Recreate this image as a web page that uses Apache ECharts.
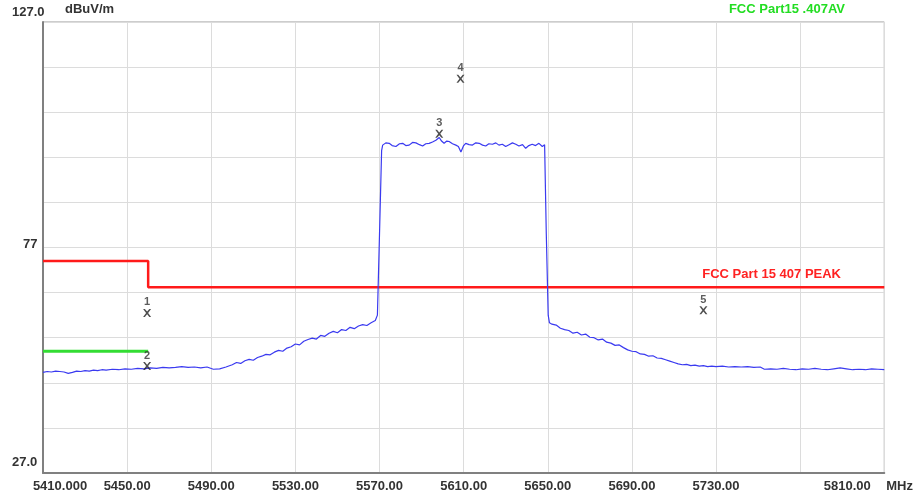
<!DOCTYPE html>
<html>
<head>
<meta charset="utf-8">
<script src="https://cdn.jsdelivr.net/npm/echarts@6/dist/echarts.min.js"></script>
<style>
html,body{margin:0;padding:0;background:#fff;}
#c{width:916px;height:499px;}
</style>
</head>
<body>
<div id="c"></div>
<script>
// ---- data ----
const traceFreq = [
5410,5412,5414,5416,5418,5420,5422,5424,5426,5428,5430,5432,5434,5436,5438,5440,5443,5446,5449,5452,5455,5458,5461,5464,5467,5470,5473,5476,5479,5482,5485,5488,5491,5494,5497,
5500,5502,5504,5506,5508,5510,5512,5514,5516,5518,5520,5522,5524,5526,5528,5530,5532,5534,5536,5538,5540,5542,5544,5546,5548,5550,5552,5554,5556,5558,5560,5562,5564,5566,5568,5569,5570,5571,
5571.5,5573,5574.6,5576,5577.8,5579.5,5581,5582.5,5584.1,5585.7,5587.3,5589,5590.5,5592,5593.6,5595.2,5596.8,5598.4,5599.5,5600.7,5602,5603.1,5604.7,5606.3,5607.5,5608.7,5610,5611,5612.6,5614.2,5615.8,5617.4,5619,5620.5,5622,5623.7,5625.3,5626.8,5628.4,5630,5631.6,5633.2,5634.8,5636.3,5638,5639.5,5641,5642.6,5644.2,5645.8,5647.4,5648.5,
5649.3,5650.2,5650.8,5652,5654,5656,5658,5660,5662,5664,5666,5668,5670,5672,5674,5676,5678,5680,5682,5684,5686,5688,5690,5692,5694,5696,5698,5700,5702,5704,5706,5708,5710,5712,5714,5716,5718,5720,5722,5724,5726,5728,5730,
5733,5736,5739,5742,5745,5748,5751,5753,5756,5759,5762,5765,5768,5771,5774,5777,5780,5783,5786,5789,5792,5795,5798,5801,5804,5807,5810
];
const traceLevel = [
49.3,49.5,49.4,49.6,49.5,49.4,49.1,49.3,49.6,49.5,49.7,49.6,49.8,49.7,49.9,49.8,50.0,49.9,50.1,50.0,50.2,50.1,50.3,50.2,50.4,50.3,50.4,50.6,50.4,50.5,50.3,50.5,50.0,50.1,50.5,
51.0,51.5,51.3,51.9,52.2,52.0,52.6,52.9,53.3,53.2,53.8,54.2,54.0,54.7,55.0,55.6,55.4,56.2,56.6,56.9,56.7,57.5,57.3,58.0,58.4,58.1,58.8,58.6,59.3,59.0,59.6,59.9,59.7,60.3,60.8,62,80,98.5,
99.7,100.2,100.1,99.6,99.4,100.0,100.1,99.6,99.7,100.3,100.2,99.8,99.5,100.0,100.1,100.4,100.8,101.4,100.6,100.1,100.6,100.5,100.0,99.7,99.4,98.2,99.6,100.1,99.8,99.7,100.2,100.1,99.7,99.5,100.0,99.9,100.2,99.7,99.9,99.4,99.8,100.2,99.9,99.5,99.8,99.0,99.6,99.9,99.6,100.1,99.4,99.8,
80,62,60.3,60.0,59.8,59.1,58.8,58.6,58.0,58.2,57.6,57.8,57.1,57.0,56.5,56.7,56.0,55.8,55.3,55.4,54.8,54.3,54.0,53.9,53.4,53.3,52.9,53.0,52.5,52.4,52.1,51.8,51.5,51.2,51.0,51.1,50.8,50.9,50.7,50.8,50.6,50.7,50.6,
50.7,50.5,50.6,50.5,50.6,50.4,50.5,50.0,50.1,50.0,50.2,50.0,49.9,50.1,50.0,50.2,50.0,49.9,50.1,50.3,50.1,49.9,50.0,49.9,50.1,50.0,49.9
];
const peakLimitFreq = [5410, 5460, 5460, 5810];
const peakLimitLevel = [74, 74, 68.2, 68.2];
const avgLimitFreq = [5410, 5460];
const avgLimitLevel = [54, 54];
const markerIds = ['1', '2', '3', '4', '5'];
const markerFreq = [5459.5, 5459.5, 5598.4, 5608.5, 5724];
const markerLevel = [62.5, 50.7, 102.2, 114.4, 63.1];
const xTickValues = [5410, 5450, 5490, 5530, 5570, 5610, 5650, 5690, 5730, 5770, 5810];
const xTickLabels = ['5410.000', '5450.00', '5490.00', '5530.00', '5570.00', '5610.00', '5650.00', '5690.00', '5730.00', '', '5810.00'];
const yTickValues = [27, 77, 127];
const yTickLabels = ['27.0', '77', '127.0'];
const peakName = 'FCC Part 15 407 PEAK';
const avgName = 'FCC Part15 .407AV';

// ---- chart ----
const zip = (a, b) => a.map((v, i) => [v, b[i]]);
const FONT = '"Liberation Sans", Arial, sans-serif';
const chart = echarts.init(document.getElementById('c'), null, {renderer: 'canvas'});
const xPath = 'path://M0,0 L2.2,0 L5,3.4 L7.8,0 L10,0 L6.3,5 L10,10 L7.8,10 L5,6.6 L2.2,10 L0,10 L3.7,5 Z';
const lbl = {fontFamily: FONT, fontSize: 13, fontWeight: 'bold', color: '#333'};

chart.setOption({
  animation: false,
  backgroundColor: '#ffffff',
  grid: {left: 43, right: 28, top: 22, bottom: 26, show: true, borderColor: '#9a9a9a', borderWidth: 1},
  legend: [
    {data: [{name: avgName, textStyle: {color: '#22dd22'}}], icon: 'none', itemWidth: 0, itemHeight: 0,
     right: 71, top: 3, padding: 0, selectedMode: false,
     textStyle: {fontFamily: FONT, fontSize: 13, fontWeight: 'bold', color: '#22dd22'}},
    {data: [{name: peakName, textStyle: {color: '#ff2222'}}], icon: 'none', itemWidth: 0, itemHeight: 0,
     right: 75, top: 268, padding: 0, selectedMode: false,
     textStyle: {fontFamily: FONT, fontSize: 13, fontWeight: 'bold', color: '#ff2222'}}
  ],
  xAxis: {
    type: 'value', min: 5410, max: 5810, interval: 40,
    name: 'MHz', nameLocation: 'end', nameGap: 2,
    nameTextStyle: Object.assign({}, lbl, {verticalAlign: 'top', padding: [7, 0, 0, 0]}),
    axisLine: {show: true, lineStyle: {color: '#808080', width: 2}},
    axisTick: {show: false},
    splitLine: {show: true, lineStyle: {color: '#dcdcdc', width: 1}},
    axisLabel: Object.assign({}, lbl, {
      margin: 7, showMinLabel: true, showMaxLabel: true,
      formatter: v => {
        const i = xTickValues.indexOf(Math.round(v));
        if (i < 0 || !xTickLabels[i]) return '';
        if (i === 0) return '{f|' + xTickLabels[i] + '}';
        if (i === xTickValues.length - 1) return '{l|' + xTickLabels[i] + '}';
        return xTickLabels[i];
      },
      rich: {
        f: Object.assign({}, lbl, {padding: [0, 0, 0, 34]}),
        l: Object.assign({}, lbl, {padding: [0, 74, 0, 0]})
      }
    })
  },
  yAxis: {
    type: 'value', min: 27, max: 127, interval: 10,
    name: 'dBuV/m', nameLocation: 'end', nameGap: 6,
    nameTextStyle: Object.assign({}, lbl, {align: 'left', padding: [0, 0, 0, 22]}),
    axisLine: {show: true, lineStyle: {color: '#808080', width: 2}},
    axisTick: {show: false},
    splitLine: {show: true, lineStyle: {color: '#dcdcdc', width: 1}},
    axisLabel: Object.assign({}, lbl, {
      margin: 31, align: 'left', showMinLabel: true, showMaxLabel: true,
      formatter: v => {
        const i = yTickValues.indexOf(Math.round(v));
        if (i < 0) return '';
        const style = i === 0 ? 'b' : (i === 1 ? 'm' : 't');
        return '{' + style + '|' + yTickLabels[i] + '}';
      },
      rich: {
        t: Object.assign({}, lbl, {padding: [0, 0, 20, 0]}),
        m: Object.assign({}, lbl, {padding: [0, 0, 6, 11]}),
        b: Object.assign({}, lbl, {padding: [0, 0, 22, 0]})
      }
    })
  },
  series: [
    {
      name: 'Trace', type: 'line', data: zip(traceFreq, traceLevel),
      showSymbol: false, symbol: 'none', lineStyle: {color: '#3a3af0', width: 1.2}, z: 3
    },
    {
      name: peakName, type: 'line', data: zip(peakLimitFreq, peakLimitLevel),
      showSymbol: false, symbol: 'none', lineStyle: {color: '#ff1a1a', width: 2.5}, itemStyle: {color: '#ff2222'}, z: 2
    },
    {
      name: avgName, type: 'line', data: zip(avgLimitFreq, avgLimitLevel),
      showSymbol: false, symbol: 'none', lineStyle: {color: '#33dd33', width: 3}, itemStyle: {color: '#22dd22'}, z: 2
    },
    {
      name: 'Markers', type: 'scatter', z: 5,
      data: markerFreq.map((f, i) => ({value: [f, markerLevel[i]], name: markerIds[i]})),
      symbol: xPath, symbolSize: [8, 8],
      itemStyle: {color: '#222'},
      label: {show: true, position: 'top', distance: 1, formatter: p => p.name,
              fontFamily: FONT, fontSize: 11, fontWeight: 'bold', color: '#333'}
    }
  ]
});
</script>
</body>
</html>
